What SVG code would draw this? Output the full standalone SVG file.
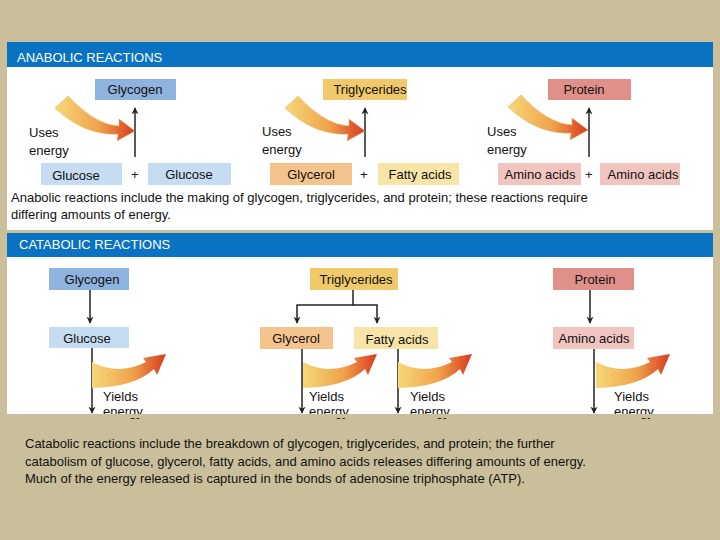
<svg xmlns="http://www.w3.org/2000/svg" width="720" height="540" viewBox="0 0 720 540">
<defs>
<linearGradient id="g" x1="0" y1="0" x2="1" y2="0"><stop offset="0" stop-color="#f6d879"/><stop offset="0.55" stop-color="#f0a24a"/><stop offset="1" stop-color="#d83a20"/></linearGradient>
<marker id="ah" viewBox="0 0 10 10" refX="9" refY="5" markerWidth="7" markerHeight="9" orient="auto" markerUnits="userSpaceOnUse"><path d="M0,0 L10,5 L0,10 L3,5 Z" fill="#222"/></marker>
<path id="ua" d="M68,96 L55,108 Q85,136 118,134 L117,141 L135,131 L119,119 L119,126 Q95,125 68,96 Z" fill="url(#g)" stroke="#e0b060" stroke-width="0.5"/>
<path id="ya" d="M92,362 Q118,376 146,362 L143,358 L166,354 L157,375 L154,369 Q135,387 92,388 Z" fill="url(#g)"/>
</defs>
<style>
text{font-family:"Liberation Sans",Arial,sans-serif;font-size:13px;fill:#111}
.h{fill:#fff;font-size:13px}
.c{text-anchor:middle}
.ln{stroke:#222;stroke-width:1.5;fill:none}
</style>
<rect width="720" height="540" fill="#c9bf9b"/>
<rect x="7" y="42" width="706" height="372" fill="#fff"/>
<rect x="7" y="42" width="706" height="25" fill="#0a72c2"/>
<text class="h" x="17" y="62">ANABOLIC REACTIONS</text>
<rect x="7" y="230" width="706" height="3" fill="#c9bf9b"/>
<rect x="7" y="233" width="706" height="24" fill="#0a72c2"/>
<text class="h" x="19" y="249">CATABOLIC REACTIONS</text>

<g id="connectors">
<line class="ln" x1="135" y1="157" x2="135" y2="108" marker-end="url(#ah)"/>
<line class="ln" x1="365" y1="157" x2="365" y2="108" marker-end="url(#ah)"/>
<line class="ln" x1="589" y1="157" x2="589" y2="108" marker-end="url(#ah)"/>
<use href="#ua"/><use href="#ua" x="230"/><use href="#ua" x="453" y="-1"/>
<line class="ln" x1="90" y1="290" x2="90" y2="323" marker-end="url(#ah)"/>
<polyline class="ln" points="353,290 353,305 297,305 297,323" marker-end="url(#ah)"/>
<polyline class="ln" points="353,305 377,305 377,323" marker-end="url(#ah)"/>
<line class="ln" x1="590" y1="290" x2="590" y2="323" marker-end="url(#ah)"/>
<line class="ln" x1="92" y1="348" x2="92" y2="413" marker-end="url(#ah)"/>
<line class="ln" x1="302" y1="349" x2="302" y2="413" marker-end="url(#ah)"/>
<line class="ln" x1="398" y1="349" x2="398" y2="413" marker-end="url(#ah)"/>
<line class="ln" x1="594" y1="349" x2="594" y2="413" marker-end="url(#ah)"/>
<use href="#ya"/><use href="#ya" x="211"/><use href="#ya" x="306"/><use href="#ya" x="504"/>
</g>

<g id="a-glycogen"><rect x="95" y="79" width="81" height="21" fill="#8fb3df"/><text class="c" x="135" y="94">Glycogen</text></g>
<g id="a-trig"><rect x="323" y="79" width="84" height="21" fill="#f0c96a"/><text class="c" x="370" y="94">Triglycerides</text></g>
<g id="a-protein"><rect x="548" y="79" width="83" height="21" fill="#e09088"/><text class="c" x="584" y="94">Protein</text></g>
<g id="a-uses"><text x="29" y="137">Uses</text><text x="29" y="155">energy</text><text x="262" y="136">Uses</text><text x="262" y="154">energy</text><text x="487" y="136">Uses</text><text x="487" y="154">energy</text></g>
<g id="a-glucose1"><rect x="41" y="163" width="81" height="22" fill="#c5dcf2"/><text class="c" x="76" y="180">Glucose</text></g>
<text x="131" y="179">+</text>
<g id="a-glucose2"><rect x="148" y="163" width="83" height="22" fill="#c5dcf2"/><text class="c" x="189" y="179">Glucose</text></g>
<g id="a-glycerol"><rect x="270" y="163" width="82" height="22" fill="#f5c48c"/><text class="c" x="311" y="179">Glycerol</text></g>
<text x="360" y="179">+</text>
<g id="a-fatty"><rect x="378" y="163" width="81" height="22" fill="#f7e4a6"/><text class="c" x="420" y="179">Fatty acids</text></g>
<g id="a-amino1"><rect x="498" y="163" width="83" height="22" fill="#f2c4c0"/><text class="c" x="540" y="179">Amino acids</text></g>
<text x="585" y="179">+</text>
<g id="a-amino2"><rect x="600" y="163" width="80" height="22" fill="#f2c4c0"/><text class="c" x="643" y="179">Amino acids</text></g>
<text x="11" y="202">Anabolic reactions include the making of glycogen, triglycerides, and protein; these reactions require</text>
<text x="11" y="219">differing amounts of energy.</text>

<g id="c-glycogen"><rect x="49" y="268" width="80" height="22" fill="#8fb3df"/><text class="c" x="92" y="284">Glycogen</text></g>
<g id="c-trig"><rect x="310" y="268" width="88" height="22" fill="#f0c96a"/><text class="c" x="356" y="284">Triglycerides</text></g>
<g id="c-protein"><rect x="553" y="268" width="81" height="22" fill="#e09088"/><text class="c" x="595" y="284">Protein</text></g>
<g id="c-glucose"><rect x="49" y="327" width="80" height="21" fill="#c5dcf2"/><text class="c" x="87" y="343">Glucose</text></g>
<g id="c-glycerol"><rect x="260" y="327" width="73" height="22" fill="#f5c48c"/><text class="c" x="296" y="343">Glycerol</text></g>
<g id="c-fatty"><rect x="354" y="327" width="84" height="22" fill="#f7e4a6"/><text class="c" x="397" y="344">Fatty acids</text></g>
<g id="c-amino"><rect x="553" y="327" width="81" height="22" fill="#f2c4c0"/><text class="c" x="594" y="343">Amino acids</text></g>
<g id="c-yields"><text x="103" y="401">Yields</text><text x="103" y="416">energy</text><text x="309" y="401">Yields</text><text x="309" y="416">energy</text><text x="410" y="401">Yields</text><text x="410" y="416">energy</text><text x="614" y="401">Yields</text><text x="614" y="416">energy</text></g>
<rect x="7" y="414" width="706" height="4" fill="#c9bf9b"/>
<text x="25" y="448">Catabolic reactions include the breakdown of glycogen, triglycerides, and protein; the further</text>
<text x="25" y="466">catabolism of glucose, glycerol, fatty acids, and amino acids releases differing amounts of energy.</text>
<text x="25" y="483">Much of the energy released is captured in the bonds of adenosine triphosphate (ATP).</text>
</svg>
